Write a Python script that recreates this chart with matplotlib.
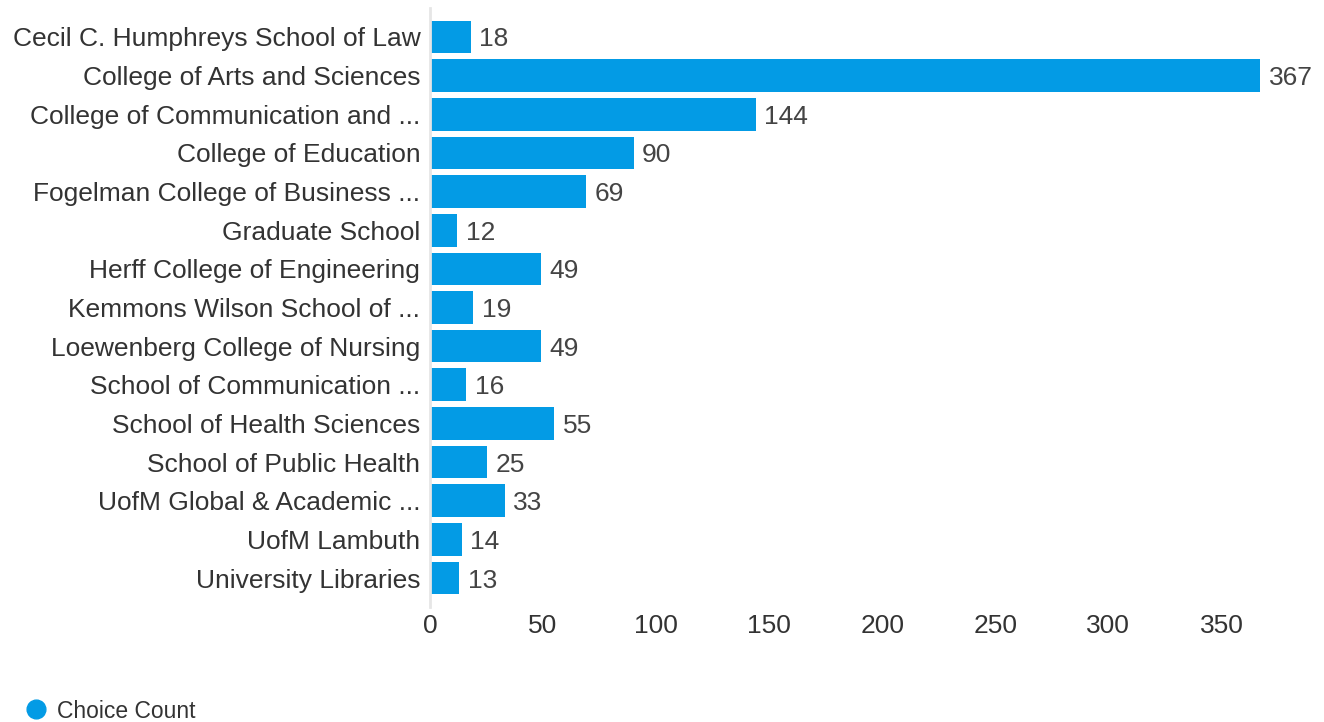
import matplotlib
matplotlib.use("Agg")
import matplotlib.pyplot as plt
from matplotlib.lines import Line2D

categories = [
    "Cecil C. Humphreys School of Law",
    "College of Arts and Sciences",
    "College of Communication and ...",
    "College of Education",
    "Fogelman College of Business ...",
    "Graduate School",
    "Herff College of Engineering",
    "Kemmons Wilson School of ...",
    "Loewenberg College of Nursing",
    "School of Communication ...",
    "School of Health Sciences",
    "School of Public Health",
    "UofM Global & Academic ...",
    "UofM Lambuth",
    "University Libraries",
]
values = [18, 367, 144, 90, 69, 12, 49, 19, 49, 16, 55, 25, 33, 14, 13]
xticks = [0, 50, 100, 150, 200, 250, 300, 350]
series_name = "Choice Count"

plt.rcParams['font.family'] = ['Liberation Sans', 'DejaVu Sans']
color = "#039BE5"
fs = 19

W, H = 1324, 722
fig = plt.figure(figsize=(W / 100, H / 100), dpi=100)
left_px, right_px, top_px, bottom_px = 430, 1278, 8, 607
ax = fig.add_axes([left_px / W, 1 - bottom_px / H, (right_px - left_px) / W, (bottom_px - top_px) / H])

ypos = list(range(len(categories)))
ax.barh(ypos, values, height=0.845, color=color, zorder=2)
ax.set_ylim(len(categories) - 0.25, -0.75)
ax.set_xlim(0, 375)

for y, v in zip(ypos, values):
    ax.text(v + 3.8, y, str(v), va='center_baseline', ha='left', fontsize=fs, color='#444444')

ax.set_yticks(ypos)
ax.set_yticklabels(categories, fontsize=fs, color='#333333')
for lbl in ax.get_yticklabels():
    lbl.set_verticalalignment('center_baseline')
ax.set_xticks(xticks)
ax.set_xticklabels([str(t) for t in xticks], fontsize=fs, color='#333333')
ax.tick_params(axis='both', length=0)
ax.tick_params(axis='y', pad=7)
ax.tick_params(axis='x', pad=5)

for s in ['top', 'right', 'bottom']:
    ax.spines[s].set_visible(False)
ax.spines['left'].set_color('#e6e6e6')
ax.spines['left'].set_linewidth(2)

handle = Line2D([0], [0], marker='o', linestyle='none', markersize=13.5,
                markerfacecolor=color, markeredgecolor=color)
fig.legend([handle], [series_name], loc='center left',
           bbox_to_anchor=(2 / W, 1 - 711 / H), frameon=False,
           fontsize=16.5, handletextpad=0.3, handlelength=1.2, labelcolor='#333333')

fig.savefig("out.png", dpi=100, facecolor='white')
